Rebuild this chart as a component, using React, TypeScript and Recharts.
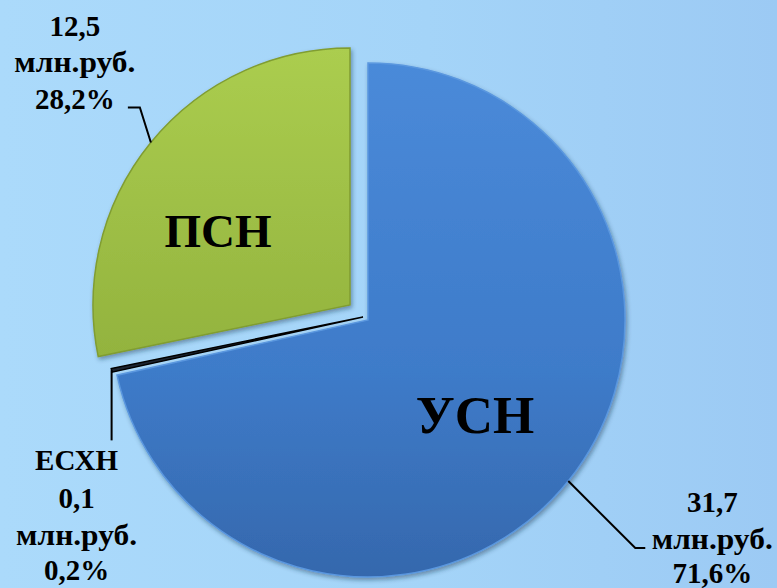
import { PieChart, Pie, Cell } from "recharts"

const categories = ["УСН", "ЕСХН", "ПСН"]
const values = [31.7, 0.1, 12.5]
const amountLabels = ["31,7", "0,1", "12,5"]
const percentLabels = ["71,6%", "0,2%", "28,2%"]
const unitLabel = "млн.руб."

const data = categories.map((name, i) => ({ name, value: values[i] }))

// layout: exploded offsets of each slice from the base centre
const CX = 368
const CY = 320
const RADIUS = 257
const explode = [
  { dx: 0, dy: 0 },
  { dx: -5, dy: -3 },
  { dx: -18, dy: -15 },
]
const fills = ["url(#gradBlue)", "#1c2430", "url(#gradGreen)"]
const strokes = ["#5a97df", "#000000", "#809d31"]

const FONT = "serif"
const RAD = Math.PI / 180

const polar = (cx: number, cy: number, r: number, angle: number) => ({
  x: cx + r * Math.cos(-angle * RAD),
  y: cy + r * Math.sin(-angle * RAD),
})

const T = ({ x, y, size = 29, width, children }: any) => (
  <text
    x={x}
    y={y}
    textAnchor="middle"
    fill="#000"
    textLength={width}
    lengthAdjust={width ? "spacingAndGlyphs" : undefined}
    style={{ fontFamily: FONT, fontWeight: 700, fontSize: size }}
  >
    {children}
  </text>
)

const UNIT_W = 121

const makeLabel = (slice: number) => (props: any) => {
  const { cx, cy, midAngle, outerRadius, index } = props
  if (index !== slice) return null
  const p = polar(cx, cy, outerRadius, midAngle)
  if (slice === 0) {
    return (
      <g>
        <polyline
          points={`${p.x},${p.y} ${p.x + 67},${p.y + 67} ${p.x + 77},${p.y + 67}`}
          fill="none"
          stroke="#000"
          strokeWidth={2}
        />
        <T x={p.x + 144} y={p.y + 31}>{amountLabels[0]}</T>
        <T x={p.x + 144} y={p.y + 68} width={UNIT_W}>{unitLabel}</T>
        <T x={p.x + 144} y={p.y + 102}>{percentLabels[0]}</T>
        <T x={cx + 107} y={cy + 113} size={53}>{categories[0]}</T>
      </g>
    )
  }
  if (slice === 1) {
    return (
      <g>
        <polyline
          points={`${p.x},${p.y} ${p.x},${p.y + 70}`}
          fill="none"
          stroke="#000"
          strokeWidth={2}
        />
        <T x={p.x - 35} y={p.y + 100}>{categories[1]}</T>
        <T x={p.x - 35} y={p.y + 138}>{amountLabels[1]}</T>
        <T x={p.x - 35} y={p.y + 175} width={UNIT_W}>{unitLabel}</T>
        <T x={p.x - 35} y={p.y + 210}>{percentLabels[1]}</T>
      </g>
    )
  }
  return (
    <g>
      <polyline
        points={`${p.x},${p.y} ${p.x - 11},${p.y - 35} ${p.x - 23},${p.y - 35}`}
        fill="none"
        stroke="#000"
        strokeWidth={2}
      />
      <T x={p.x - 76} y={p.y - 107}>{amountLabels[2]}</T>
      <T x={p.x - 76} y={p.y - 71} width={UNIT_W}>{unitLabel}</T>
      <T x={p.x - 76} y={p.y - 34}>{percentLabels[2]}</T>
      <T x={cx - 132} y={cy - 58} size={47}>{categories[2]}</T>
    </g>
  )
}

export default function App() {
  return (
    <div
      style={{
        position: "absolute",
        left: 0,
        top: 0,
        width: 777,
        height: 588,
        background: "linear-gradient(90deg, #abdafb 0%, #a4d4f8 55%, #9ccaf4 100%)",
      }}
    >
      <PieChart width={777} height={588} margin={{ top: 0, right: 0, bottom: 0, left: 0 }}>
        <defs>
          <linearGradient id="gradBlue" x1="0" y1="0" x2="0" y2="1">
            <stop offset="0%" stopColor="#4a8ad9" />
            <stop offset="60%" stopColor="#3e7bc9" />
            <stop offset="100%" stopColor="#3568ad" />
          </linearGradient>
          <linearGradient id="gradGreen" x1="0" y1="0" x2="0" y2="1">
            <stop offset="0%" stopColor="#abcd4f" />
            <stop offset="100%" stopColor="#93b33e" />
          </linearGradient>
          <filter id="shadow" x="-10%" y="-10%" width="120%" height="120%">
            <feDropShadow dx="1.5" dy="2.5" stdDeviation="2" floodColor="#1d3550" floodOpacity="0.45" />
          </filter>
        </defs>
        {explode.map((off, i) => (
          <Pie
            key={categories[i]}
            data={data}
            dataKey="value"
            nameKey="name"
            cx={CX + off.dx}
            cy={CY + off.dy}
            outerRadius={RADIUS}
            startAngle={90}
            endAngle={-270}
            label={makeLabel(i)}
            labelLine={false}
            isAnimationActive={false}
          >
            {data.map((d, j) => (
              <Cell
                key={d.name}
                fill={j === i ? fills[i] : "none"}
                stroke={j === i ? strokes[i] : "none"}
                strokeWidth={j === i ? 1.5 : 0}
                filter={j === i && i !== 1 ? "url(#shadow)" : undefined}
              />
            ))}
          </Pie>
        ))}
      </PieChart>
    </div>
  )
}
